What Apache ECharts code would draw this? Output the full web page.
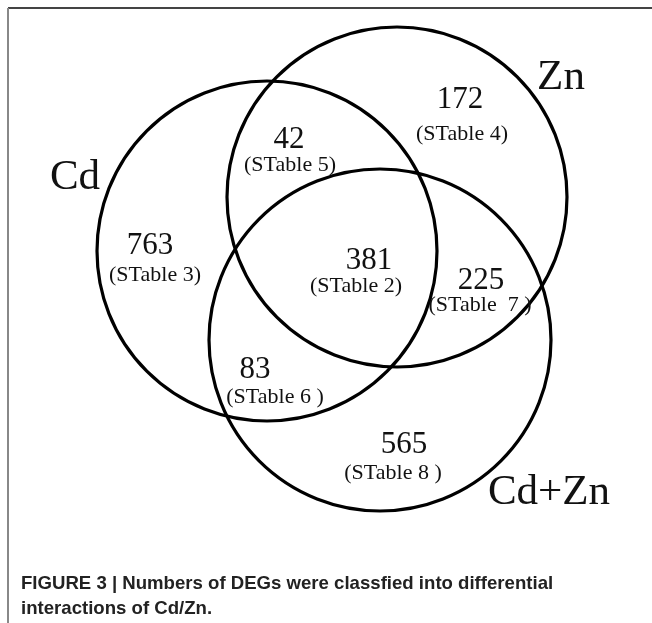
<!DOCTYPE html>
<html>
<head>
<meta charset="utf-8">
<title>Venn Cd/Zn</title>
<script src="https://cdn.jsdelivr.net/npm/echarts@6/dist/echarts.min.js"></script>
<style>
  html, body { margin: 0; padding: 0; background: #fff; }
  #main { width: 652px; height: 623px; }
</style>
</head>
<body>
<div id="main"></div>
<script>
// sets: name, centre and radius (in figure units)
var setNames = ['Cd', 'Zn', 'Cd+Zn'];
var setCx = [267, 397, 380];
var setCy = [251, 197, 340];
var setR = [170, 170, 171];
var setLabelX = [75, 561, 549];
var setLabelY = [178, 78, 493];

// regions: count + supplementary table
var regionCounts = [763, 42, 172, 381, 225, 83, 565];
var regionTables = ['(STable 3)', '(STable 5)', '(STable 4)', '(STable 2)', '(STable  7 )', '(STable 6 )', '(STable 8 )'];
var countX = [150, 289, 460, 369, 481, 255, 404];
var countY = [246, 140, 100, 261, 281, 370, 445];
var tableX = [155, 290, 462, 356, 480, 275, 393];
var tableY = [275, 165, 134, 286, 305, 397, 473];

var caption = 'FIGURE 3 | Numbers of DEGs were classfied into differential\ninteractions of Cd/Zn.';

var serif = '"Liberation Serif", "Times New Roman", serif';

var circleData = setNames.map(function (n, i) { return [setCx[i], setCy[i], setR[i], n]; });
var setLabelData = setNames.map(function (n, i) { return [setLabelX[i], setLabelY[i], n]; });
var regionData = regionCounts.map(function (c, i) {
  return [countX[i], countY[i], tableX[i], tableY[i], c, regionTables[i]];
});

var myChart = echarts.init(document.getElementById('main'));

var option = {
  animation: false,
  backgroundColor: '#fff',
  grid: { left: 0, right: 0, top: 0, bottom: 0 },
  xAxis: { type: 'value', min: 0, max: 652, show: false },
  yAxis: { type: 'value', min: 0, max: 623, inverse: true, show: false },
  title: {
    text: caption,
    left: 16,
    top: 566,
    textStyle: {
      fontFamily: '"Liberation Sans", Arial, sans-serif',
      fontWeight: 'bold',
      fontSize: 18.6,
      lineHeight: 25,
      color: '#222'
    }
  },
  graphic: [
    { type: 'line', shape: { x1: 8, y1: 8, x2: 652, y2: 8 }, style: { stroke: '#444', lineWidth: 2 } },
    { type: 'line', shape: { x1: 8, y1: 8, x2: 8, y2: 623 }, style: { stroke: '#888', lineWidth: 2 } }
  ],
  series: [
    {
      type: 'custom',
      name: 'sets',
      data: circleData,
      renderItem: function (params, api) {
        var c = api.coord([api.value(0), api.value(1)]);
        var s = api.size([api.value(2), api.value(2)]);
        return {
          type: 'circle',
          shape: { cx: c[0], cy: c[1], r: s[0] },
          style: { fill: 'none', stroke: '#000', lineWidth: 3.2 }
        };
      }
    },
    {
      type: 'custom',
      name: 'setLabels',
      data: setLabelData,
      renderItem: function (params, api) {
        var p = api.coord([api.value(0), api.value(1)]);
        return {
          type: 'text',
          style: {
            text: setNames[params.dataIndex],
            x: p[0], y: p[1],
            align: 'center', verticalAlign: 'middle',
            font: '43px ' + serif,
            fill: '#111'
          }
        };
      }
    },
    {
      type: 'custom',
      name: 'regions',
      data: regionData,
      renderItem: function (params, api) {
        var i = params.dataIndex;
        var a = api.coord([api.value(0), api.value(1)]);
        var b = api.coord([api.value(2), api.value(3)]);
        return {
          type: 'group',
          children: [
            {
              type: 'text',
              style: {
                text: String(regionCounts[i]),
                x: a[0], y: a[1],
                align: 'center', verticalAlign: 'middle',
                font: '31px ' + serif,
                fill: '#111'
              }
            },
            {
              type: 'text',
              style: {
                text: regionTables[i],
                x: b[0], y: b[1],
                align: 'center', verticalAlign: 'middle',
                font: '22px ' + serif,
                fill: '#111'
              }
            }
          ]
        };
      }
    }
  ]
};

myChart.setOption(option);
</script>
</body>
</html>
